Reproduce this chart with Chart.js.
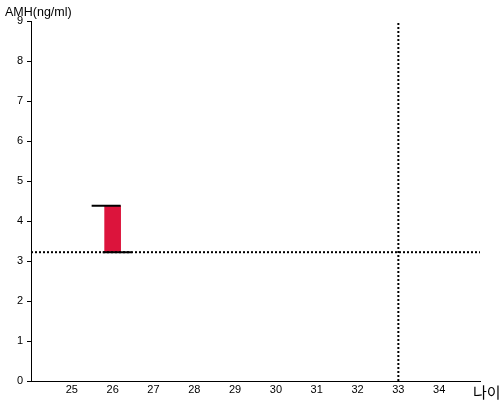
<!DOCTYPE html>
<html><head><meta charset="utf-8">
<script src="https://cdn.jsdelivr.net/npm/chart.js@4"></script>
<style>html,body{margin:0;padding:0;background:#fff}#wrap{width:500px;height:400px}</style>
</head><body><div id="wrap"><canvas id="c" width="500" height="400"></canvas></div>
<script>
const ages = [26];
const amhLow = [3.22];
const amhHigh = [4.38];
const refAge = 33;
const refAMH = 3.22;
const xMin = 24, xMax = 35;
const yMin = 0, yMax = 9;
const xTickLabels = [25,26,27,28,29,30,31,32,33,34];
const yTitle = 'AMH(ng/ml)';
const xTitle = '나이';

const capPlugin = {
  id: 'caps',
  afterDatasetsDraw(chart) {
    const ctx = chart.ctx, xs = chart.scales.x, ys = chart.scales.y;
    ctx.save();
    ctx.strokeStyle = '#000';
    ctx.lineWidth = 2;
    ages.forEach((a, i) => {
      const px = xs.getPixelForValue(a);
      const pt = ys.getPixelForValue(amhHigh[i]);
      const pb = ys.getPixelForValue(amhLow[i]);
      ctx.beginPath();
      ctx.moveTo(px - 21, pt); ctx.lineTo(px + 8, pt);
      ctx.moveTo(px - 10, pb); ctx.lineTo(px + 19, pb);
      ctx.stroke();
    });
    ctx.restore();
  },
  afterDraw(chart) {
    const ctx = chart.ctx;
    ctx.save();
    ctx.fillStyle = '#000';
    ctx.textBaseline = 'alphabetic';
    ctx.font = '12.5px "Liberation Sans", Arial, sans-serif';
    ctx.fillText(yTitle, 5, 16);
    ctx.font = '15px "Noto Sans CJK KR", sans-serif';
    ctx.fillText(xTitle, 473, 398);
    ctx.restore();
  }
};

new Chart(document.getElementById('c'), {
  type: 'bar',
  data: {
    datasets: [
      {
        type: 'bar',
        data: ages.map((a, i) => ({x: a, y: [amhLow[i], amhHigh[i]]})),
        backgroundColor: '#DC143C',
        borderWidth: 0,
        barThickness: 16,
        order: 2
      },
      {
        type: 'line',
        data: [{x: xMin, y: refAMH}, {x: xMax, y: refAMH}],
        borderColor: '#000', borderWidth: 2, borderDash: [2, 2],
        pointRadius: 0, fill: false, order: 1
      },
      {
        type: 'line',
        data: [{x: refAge, y: yMin}, {x: refAge, y: yMax}],
        borderColor: '#000', borderWidth: 2, borderDash: [2, 2],
        pointRadius: 0, fill: false, order: 1
      }
    ]
  },
  options: {
    responsive: false,
    animation: false,
    devicePixelRatio: 1,
    layout: {padding: {top: 21, right: 20, left: 0, bottom: 0}},
    plugins: {legend: {display: false}, tooltip: {enabled: false}},
    scales: {
      x: {
        type: 'linear', min: xMin, max: xMax, offset: false,
        grid: {display: false, drawTicks: false, tickLength: 0},
        border: {display: true, color: '#000', width: 1},
        ticks: {
          stepSize: 1, color: '#000', padding: 2,
          font: {family: '"Liberation Sans", Arial, sans-serif', size: 11},
          callback: v => xTickLabels.includes(v) ? String(v) : ''
        },
        afterFit: s => { s.height = 19; }
      },
      y: {
        min: yMin, max: yMax,
        grid: {display: true, drawOnChartArea: false, tickLength: 4, color: '#000'},
        border: {display: true, color: '#000', width: 1},
        ticks: {
          stepSize: 1, color: '#000', padding: 4,
          font: {family: '"Liberation Sans", Arial, sans-serif', size: 11}
        },
        afterFit: s => { s.width = 31; }
      }
    }
  },
  plugins: [capPlugin]
});
</script>
</body></html>
